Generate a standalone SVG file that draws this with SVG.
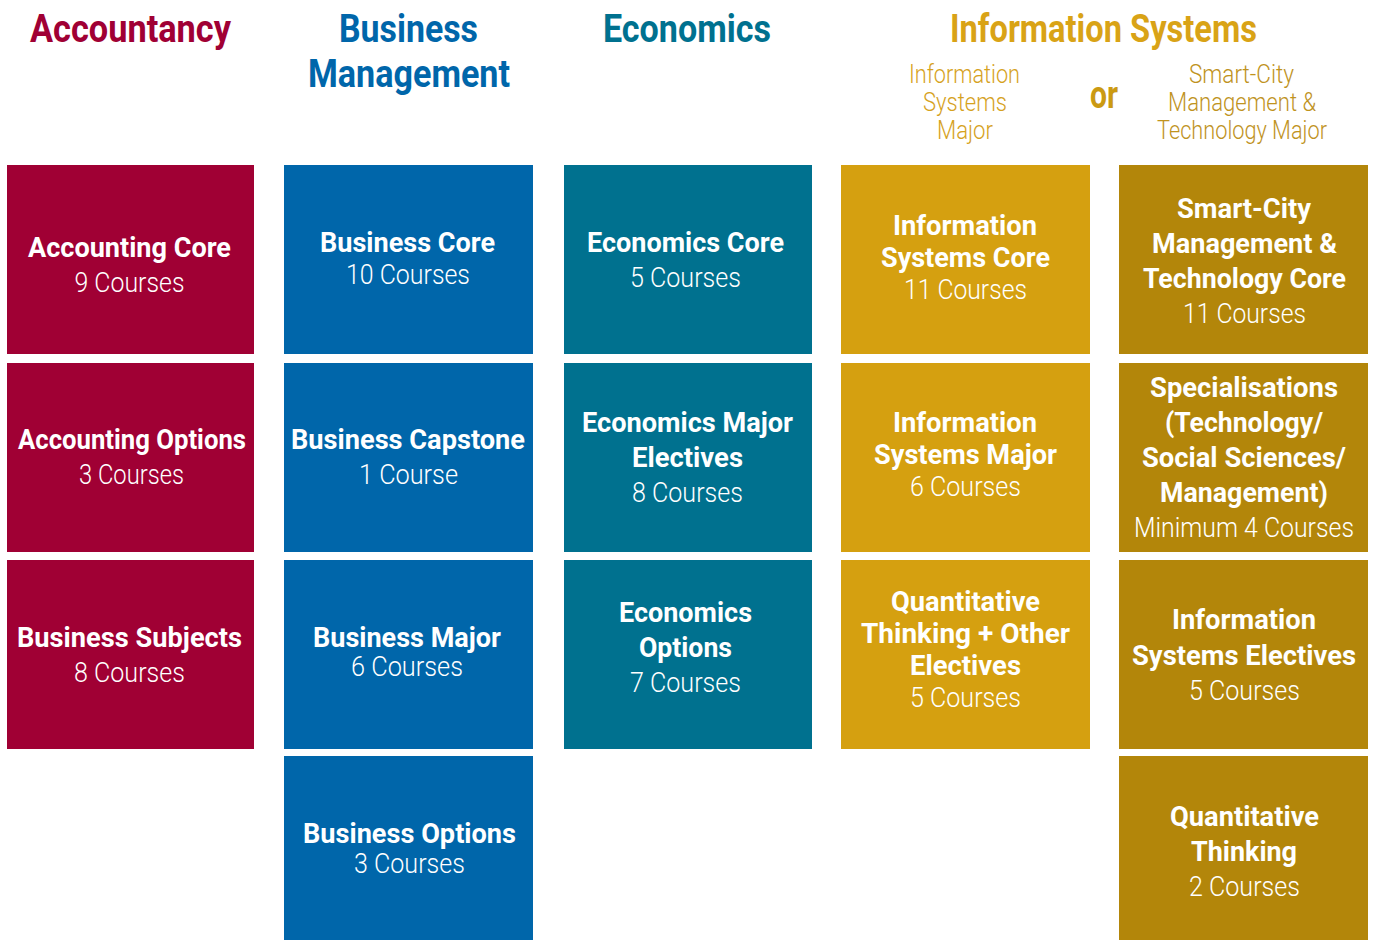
<svg xmlns="http://www.w3.org/2000/svg" width="1375" height="940" viewBox="0 0 1375 940">
<style>
text{font-family:Roboto,"Liberation Sans",sans-serif;text-anchor:middle}
.h{font-weight:bold;font-size:38px}
.sub{font-size:25px;font-weight:300}
.b{font-weight:bold;font-size:27px;fill:#fff}
.l{font-size:27px;font-weight:300;fill:#fff}
.acc{fill:#A00034}.bus{fill:#0066AA}.eco{fill:#00718F}.is{fill:#D5A010}.sc{fill:#B3860A}
</style>
<rect width="1375" height="940" fill="#fff"/>
<g id="headings">
<text class="h" x="130.5" y="42" fill="#A00034" textLength="201" lengthAdjust="spacingAndGlyphs">Accountancy</text>
<text class="h" x="408.5" y="42" fill="#0066AA" textLength="139" lengthAdjust="spacingAndGlyphs">Business</text>
<text class="h" x="409" y="87" fill="#0066AA" textLength="202" lengthAdjust="spacingAndGlyphs">Management</text>
<text class="h" x="687" y="42" fill="#00718F" textLength="168" lengthAdjust="spacingAndGlyphs">Economics</text>
<text class="h" x="1103.5" y="42" fill="#D9A316" textLength="307" lengthAdjust="spacingAndGlyphs">Information Systems</text>
<text class="sub" x="964.5" y="82.5" fill="#D6A21E" textLength="111" lengthAdjust="spacingAndGlyphs">Information</text>
<text class="sub" x="965" y="110.5" fill="#D6A21E" textLength="84" lengthAdjust="spacingAndGlyphs">Systems</text>
<text class="sub" x="965" y="138.5" fill="#D6A21E" textLength="56" lengthAdjust="spacingAndGlyphs">Major</text>
<text class="h" x="1104" y="108" fill="#CB9A12" textLength="28" lengthAdjust="spacingAndGlyphs">or</text>
<text class="sub" x="1241.5" y="82.5" fill="#C0931E" textLength="105" lengthAdjust="spacingAndGlyphs">Smart-City</text>
<text class="sub" x="1242" y="110.5" fill="#C0931E" textLength="148" lengthAdjust="spacingAndGlyphs">Management &amp;</text>
<text class="sub" x="1242" y="138.5" fill="#C0931E" textLength="170" lengthAdjust="spacingAndGlyphs">Technology Major</text>
</g>
<g id="acc-core"><rect class="acc" x="7" y="165" width="247" height="189"/>
<text class="b" x="129.5" y="257" textLength="203" lengthAdjust="spacingAndGlyphs">Accounting Core</text><text class="l" x="129.5" y="292" textLength="110" lengthAdjust="spacingAndGlyphs">9 Courses</text></g>
<g id="acc-options"><rect class="acc" x="7" y="363" width="247" height="189"/>
<text class="b" x="132" y="449" textLength="228" lengthAdjust="spacingAndGlyphs">Accounting Options</text><text class="l" x="131.5" y="484" textLength="105" lengthAdjust="spacingAndGlyphs">3 Courses</text></g>
<g id="acc-business-subjects"><rect class="acc" x="7" y="560" width="247" height="189"/>
<text class="b" x="129.5" y="647" textLength="225" lengthAdjust="spacingAndGlyphs">Business Subjects</text><text class="l" x="129.5" y="682" textLength="111" lengthAdjust="spacingAndGlyphs">8 Courses</text></g>

<g id="bus-core"><rect class="bus" x="284" y="165" width="249" height="189"/>
<text class="b" x="407.5" y="252" textLength="175" lengthAdjust="spacingAndGlyphs">Business Core</text><text class="l" x="408" y="284" textLength="124" lengthAdjust="spacingAndGlyphs">10 Courses</text></g>
<g id="bus-capstone"><rect class="bus" x="284" y="363" width="249" height="189"/>
<text class="b" x="408" y="449" textLength="234" lengthAdjust="spacingAndGlyphs">Business Capstone</text><text class="l" x="408.5" y="484" textLength="99" lengthAdjust="spacingAndGlyphs">1 Course</text></g>
<g id="bus-major"><rect class="bus" x="284" y="560" width="249" height="189"/>
<text class="b" x="407" y="647" textLength="188" lengthAdjust="spacingAndGlyphs">Business Major</text><text class="l" x="407" y="676" textLength="112" lengthAdjust="spacingAndGlyphs">6 Courses</text></g>
<g id="bus-options"><rect class="bus" x="284" y="756" width="249" height="184"/>
<text class="b" x="409.5" y="843" textLength="213" lengthAdjust="spacingAndGlyphs">Business Options</text><text class="l" x="409.5" y="873" textLength="111" lengthAdjust="spacingAndGlyphs">3 Courses</text></g>

<g id="eco-core"><rect class="eco" x="564" y="165" width="248" height="189"/>
<text class="b" x="685.5" y="252" textLength="197" lengthAdjust="spacingAndGlyphs">Economics Core</text><text class="l" x="685.5" y="287" textLength="111" lengthAdjust="spacingAndGlyphs">5 Courses</text></g>
<g id="eco-major"><rect class="eco" x="564" y="363" width="248" height="189"/>
<text class="b" x="687.5" y="432" textLength="211" lengthAdjust="spacingAndGlyphs">Economics Major</text><text class="b" x="687.5" y="467" textLength="111" lengthAdjust="spacingAndGlyphs">Electives</text><text class="l" x="687.5" y="502" textLength="111" lengthAdjust="spacingAndGlyphs">8 Courses</text></g>
<g id="eco-options"><rect class="eco" x="564" y="560" width="248" height="189"/>
<text class="b" x="685.5" y="622" textLength="133" lengthAdjust="spacingAndGlyphs">Economics</text><text class="b" x="685.5" y="657" textLength="93" lengthAdjust="spacingAndGlyphs">Options</text><text class="l" x="685.5" y="692" textLength="111" lengthAdjust="spacingAndGlyphs">7 Courses</text></g>

<g id="is-core"><rect class="is" x="841" y="165" width="249" height="189"/>
<text class="b" x="965" y="235" textLength="144" lengthAdjust="spacingAndGlyphs">Information</text><text class="b" x="965.5" y="267" textLength="169" lengthAdjust="spacingAndGlyphs">Systems Core</text><text class="l" x="965.5" y="299" textLength="123" lengthAdjust="spacingAndGlyphs">11 Courses</text></g>
<g id="is-major"><rect class="is" x="841" y="363" width="249" height="189"/>
<text class="b" x="965" y="432" textLength="144" lengthAdjust="spacingAndGlyphs">Information</text><text class="b" x="965.5" y="464" textLength="183" lengthAdjust="spacingAndGlyphs">Systems Major</text><text class="l" x="965.5" y="496" textLength="111" lengthAdjust="spacingAndGlyphs">6 Courses</text></g>
<g id="is-qt-electives"><rect class="is" x="841" y="560" width="249" height="189"/>
<text class="b" x="965.5" y="611" textLength="149" lengthAdjust="spacingAndGlyphs">Quantitative</text><text class="b" x="965.5" y="643" textLength="209" lengthAdjust="spacingAndGlyphs">Thinking + Other</text><text class="b" x="965.5" y="675" textLength="111" lengthAdjust="spacingAndGlyphs">Electives</text><text class="l" x="965.5" y="707" textLength="111" lengthAdjust="spacingAndGlyphs">5 Courses</text></g>

<g id="sc-core"><rect class="sc" x="1119" y="165" width="249" height="189"/>
<text class="b" x="1244" y="218" textLength="134" lengthAdjust="spacingAndGlyphs">Smart-City</text><text class="b" x="1244.5" y="253" textLength="185" lengthAdjust="spacingAndGlyphs">Management &amp;</text><text class="b" x="1244.5" y="288" textLength="203" lengthAdjust="spacingAndGlyphs">Technology Core</text><text class="l" x="1244.5" y="323" textLength="123" lengthAdjust="spacingAndGlyphs">11 Courses</text></g>
<g id="sc-specialisations"><rect class="sc" x="1119" y="363" width="249" height="189"/>
<text class="b" x="1244" y="397" textLength="188" lengthAdjust="spacingAndGlyphs">Specialisations</text><text class="b" x="1244" y="432" textLength="158" lengthAdjust="spacingAndGlyphs">(Technology/</text><text class="b" x="1244" y="467" textLength="204" lengthAdjust="spacingAndGlyphs">Social Sciences/</text><text class="b" x="1244" y="502" textLength="168" lengthAdjust="spacingAndGlyphs">Management)</text><text class="l" x="1244" y="537" textLength="220" lengthAdjust="spacingAndGlyphs">Minimum 4 Courses</text></g>
<g id="sc-is-electives"><rect class="sc" x="1119" y="560" width="249" height="189"/>
<text class="b" x="1244" y="629" textLength="144" lengthAdjust="spacingAndGlyphs">Information</text><text class="b" x="1244" y="665" textLength="224" lengthAdjust="spacingAndGlyphs">Systems Electives</text><text class="l" x="1244.5" y="700" textLength="111" lengthAdjust="spacingAndGlyphs">5 Courses</text></g>
<g id="sc-qt"><rect class="sc" x="1119" y="756" width="249" height="184"/>
<text class="b" x="1244.5" y="826" textLength="149" lengthAdjust="spacingAndGlyphs">Quantitative</text><text class="b" x="1244" y="861" textLength="106" lengthAdjust="spacingAndGlyphs">Thinking</text><text class="l" x="1244.5" y="896" textLength="111" lengthAdjust="spacingAndGlyphs">2 Courses</text></g>
<g id="connectors"/>
</svg>
